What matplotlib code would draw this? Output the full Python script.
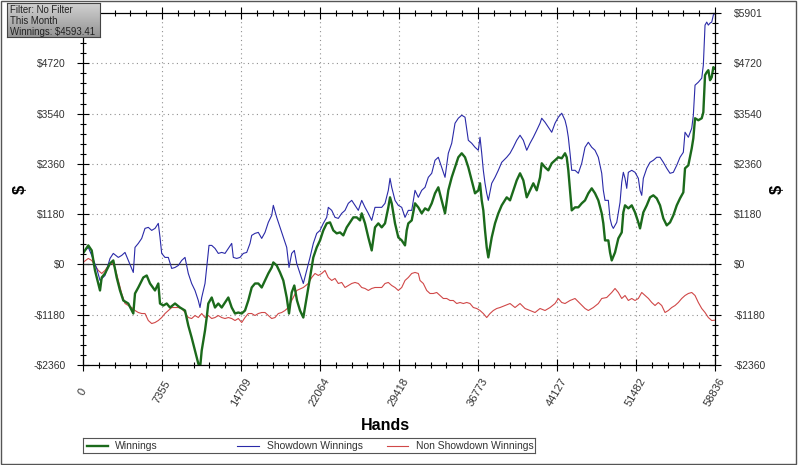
import matplotlib
matplotlib.use("Agg")
import matplotlib.pyplot as plt
import numpy as np
from matplotlib.ticker import FixedLocator
from matplotlib.patches import Rectangle

plt.rcParams['font.family'] = ['Liberation Sans', 'DejaVu Sans']

# ---- data (hands, $) ----
x_ticks = [0, 7355, 14709, 22064, 29418, 36773, 44127, 51482, 58836]
y_ticks = [-2360, -1180, 0, 1180, 2360, 3540, 4720]
y_top = 5901

win_hands = [0, 493, 810, 1117, 1583, 1741, 2048, 2514, 2821, 3137, 3445, 3752, 4217, 4683, 4841,
             5148, 5614, 5930, 6238, 6703, 7010, 7169, 7476, 7792, 8100, 8565, 9031, 9496, 9803,
             10115, 10427, 10734, 10893, 11051, 11358, 11516, 11665, 11982, 12289, 12596, 12913,
             13220, 13528, 13844, 14151, 14459, 14775, 15082, 15389, 15706, 16013, 16320, 16637,
             16944, 17251, 17568, 17717, 18033, 18341, 18648, 18965, 19179, 19430, 19672, 19923,
             20203, 20510, 20826, 21134, 21441, 21758, 22065, 22372, 22688, 22996, 23303, 23619,
             23927, 24234, 24550, 24858, 25165, 25481, 25789, 25947, 26254, 26561, 26878, 27185,
             27493, 27809, 28116, 28423, 28582, 28740, 29047, 29354, 29671, 29978, 30136, 30285,
             30602, 30909, 31216, 31533, 31840, 32147, 32464, 32771, 33078, 33395, 33702, 34009,
             34326, 34633, 34940, 35257, 35564, 35871, 36188, 36495, 36802, 36961, 37119, 37268,
             37426, 37584, 37733, 38050, 38357, 38664, 38981, 39446, 39754, 40061, 40378, 40685,
             40992, 41309, 41616, 41923, 42240, 42547, 42705, 43012, 43319, 43636, 43943, 44250,
             44567, 44874, 45032, 45181, 45340, 45498, 45805, 46112, 46429, 46736, 47043, 47360,
             47667, 47974, 48291, 48440, 48598, 48905, 49064, 49222, 49529, 49837, 50153, 50302,
             50460, 50768, 51084, 51391, 51699, 51857, 52164, 52481, 52788, 53095, 53412, 53719,
             54026, 54343, 54650, 54957, 55274, 55581, 55888, 56046, 56354, 56670, 56819, 56977,
             57284, 57601, 57750, 57908, 58066, 58215, 58374, 58532, 58681, 58836]
win = [259, 447, 329, -141, -611, -306, -212, 24, 94, -306, -611, -846, -917, -1152, -682,
       -541, -306, -259, -447, -611, -447, -917, -964, -917, -1011, -917, -1011, -1081, -1434,
       -1716, -2021, -2327, -2444, -2021, -1551, -1246, -917, -776, -1011, -917, -1011,
       -893, -776, -1011, -1152, -1128, -1152, -1081, -846, -541, -447, -447, -541,
       -376, -212, -71, 47, -24, -188, -376, -776, -1152, -658, -494, -846,
       -1081, -1246, -776, -306, 165, 400, 564, 799, 964, 987, 799, 729,
       752, 682, 870, 987, 1105, 1105, 1034, 1199, 964, 635, 329, 870,
       964, 870, 964, 1340, 1575, 1434, 964, 635, 564, 447, 799, 964,
       1034, 1434, 1340, 1199, 1316, 1269, 1434, 1669, 1810, 1504, 1199, 1739,
       2045, 2280, 2515, 2609, 2515, 2280, 1974, 1669, 1739, 1904, 1504, 1269,
       799, 400, 165, 635, 964, 1199, 1387, 1575, 1504, 1739, 1974, 2139,
       1974, 1575, 1739, 1904, 1739, 2045, 2374, 2280, 2209, 2374, 2444, 2515,
       2491, 2609, 2515, 2209, 1739, 1269, 1340, 1340, 1434, 1504, 1669, 1786,
       1669, 1504, 1199, 964, 564, 564, 282, 94, 282, 611, 752, 1222,
       1387, 1316, 1387, 1222, 987, 846, 1222, 1387, 1575, 1622, 1551, 1387,
       1081, 917, 987, 1152, 1387, 1551, 1692, 2256, 2327, 2726, 2961, 3431,
       3384, 3431, 3572, 4442, 4512, 4559, 4324, 4395, 4630, 4593]

sd_hands = [0, 493, 810, 1275, 1583, 2048, 2514, 2821, 3286, 3603, 3910, 4217, 4534, 4683, 4841,
            5148, 5465, 5772, 6079, 6396, 6703, 7010, 7169, 7327, 7634, 7941, 8258, 8565, 8872,
            9189, 9496, 9803, 10115, 10427, 10734, 10893, 11051, 11358, 11516, 11731, 11982,
            12289, 12596, 12913, 13220, 13528, 13844, 13993, 14310, 14617, 14924, 15241, 15548,
            15706, 16013, 16320, 16637, 16944, 17251, 17568, 17717, 18033, 18341, 18648, 18965,
            19179, 19430, 19672, 19895, 20203, 20510, 20826, 21134, 21441, 21758, 22065, 22372,
            22688, 22837, 23154, 23461, 23768, 24085, 24392, 24699, 25016, 25323, 25630, 25947,
            26254, 26561, 26878, 27185, 27493, 27809, 28116, 28423, 28582, 28740, 29047, 29354,
            29671, 29978, 30285, 30602, 30909, 31216, 31533, 31840, 32147, 32464, 32771, 33078,
            33395, 33702, 34009, 34326, 34633, 34940, 35257, 35564, 35871, 36188, 36495, 36802,
            36961, 37119, 37268, 37426, 37584, 37733, 38050, 38357, 38664, 38981, 39446, 39754,
            40061, 40378, 40685, 40992, 41309, 41616, 41923, 42240, 42547, 42705, 43012, 43319,
            43636, 43943, 44250, 44567, 44874, 45032, 45181, 45340, 45498, 45805, 46112, 46429,
            46736, 47043, 47360, 47667, 47974, 48291, 48440, 48598, 48905, 49064, 49222, 49371,
            49688, 49995, 50153, 50302, 50460, 50619, 50768, 51084, 51391, 51699, 51857, 52015,
            52164, 52481, 52788, 53095, 53412, 53719, 54026, 54343, 54650, 54957, 55274, 55581,
            55888, 56046, 56354, 56670, 56819, 56977, 57284, 57601, 57750, 57908, 58066, 58215,
            58374, 58532, 58681, 58836]
sd = [282, 400, 212, -94, -376, -259, 141, 259, 165, 212, 282, 94, -94, -188, 400,
      494, 611, 846, 870, 799, 846, 964, 635, 259, 165, 165, -94, -71, -24,
      94, 165, -212, -447, -611, -846, -1011, -776, -447, -71, 447, 447,
      376, 259, 282, 259, 376, 494, 165, 141, 165, 259, 282, 494,
      682, 729, 752, 611, 752, 987, 1152, 1387, 1105, 870, 635, 400,
      -71, 259, 329, 24, -212, -447, -141, 165, 494, 729, 799, 964,
      1105, 1340, 1269, 1105, 1081, 1199, 1269, 1434, 1504, 1387, 1269, 1504,
      1340, 1199, 1034, 1340, 1340, 1340, 1434, 1739, 2021, 1810, 1504, 1387,
      1340, 1105, 1269, 1269, 1739, 1575, 1739, 1810, 2045, 2139, 2444, 2515,
      2280, 2045, 2609, 2844, 3314, 3431, 3502, 3455, 2914, 2844, 2750, 2679,
      2985, 2609, 2209, 1904, 1669, 1504, 1904, 2045, 2209, 2397, 2515, 2609,
      2750, 2914, 3032, 2914, 2679, 2844, 2985, 3149, 3314, 3431, 3337, 3220,
      3102, 3314, 3455, 3549, 3384, 3220, 2985, 2609, 2209, 2209, 2139, 2374,
      2750, 2867, 2750, 2679, 2515, 2139, 1739, 1504, 1504, 1081, 917, 846,
      987, 1457, 1927, 2162, 2021, 1786, 2162, 2209, 2162, 2021, 1739, 1622,
      2021, 2256, 2397, 2444, 2515, 2515, 2397, 2256, 2139, 2162, 2327, 2515,
      2632, 3102, 2985, 3196, 3502, 4207, 4277, 4371, 4677, 5617, 5687, 5617,
      5664, 5687, 5852, 5901]

nsd_hands = [0, 493, 810, 1117, 1424, 1741, 2048, 2355, 2672, 2979, 3286, 3603, 3910, 4217, 4534,
             4841, 5148, 5465, 5772, 6079, 6396, 6703, 7010, 7327, 7634, 7941, 8258, 8565, 8872,
             9189, 9496, 9803, 10115, 10427, 10734, 11051, 11358, 11665, 11982, 12289, 12596,
             12913, 13220, 13528, 13844, 14151, 14459, 14775, 15082, 15389, 15706, 16013, 16320,
             16637, 16944, 17251, 17568, 17875, 18182, 18499, 18806, 19114, 19430, 19672, 19895,
             20510, 20976, 21292, 21600, 21907, 22223, 22530, 22837, 23154, 23461, 23768, 24085,
             24392, 24699, 25016, 25323, 25630, 25947, 26254, 26561, 26878, 27185, 27493, 27809,
             28116, 28423, 28740, 29047, 29354, 29671, 29978, 30285, 30602, 30909, 31216, 31374,
             31681, 31998, 32306, 32613, 32929, 33237, 33544, 33861, 34168, 34475, 34792, 35099,
             35406, 35723, 36030, 36337, 36654, 36961, 37268, 37584, 37892, 38199, 38516, 38823,
             39289, 39754, 40219, 40685, 41150, 41616, 42081, 42547, 43012, 43478, 43943, 44250,
             44567, 44874, 45340, 45805, 46271, 46736, 47043, 47509, 47974, 48291, 48756, 49222,
             49529, 49837, 50153, 50460, 50768, 51084, 51391, 51699, 52015, 52322, 52639, 52946,
             53253, 53560, 53877, 54184, 54492, 54808, 55115, 55423, 55739, 56046, 56354, 56670,
             56977, 57284, 57601, 57908, 58215, 58532, 58836]
nsd = [47, 141, 94, -24, -141, -212, -141, -24, 47, -71, -376, -682, -917, -964, -1011,
       -1081, -1128, -1152, -1152, -1316, -1387, -1363, -1316, -1246, -1152, -1081, -1011, -1011, -1011,
       -1034, -1128, -1246, -1269, -1199, -1246, -1152, -1246, -1199, -1269, -1246, -1199,
       -1246, -1269, -1246, -1269, -1316, -1269, -1363, -1246, -1152, -1152, -1199, -1152,
       -1128, -1128, -1199, -1269, -1246, -1152, -1128, -1081, -1011, -846, -729, -611,
       -541, -447, -306, -212, -259, -212, -141, -306, -376, -329, -447, -423,
       -541, -494, -447, -423, -447, -541, -564, -611, -564, -541, -541, -541,
       -447, -423, -494, -541, -611, -541, -376, -306, -212, -188, -212, -376,
       -447, -611, -682, -682, -658, -729, -799, -799, -846, -846, -917, -893,
       -917, -893, -917, -1011, -1034, -1081, -1152, -1246, -1152, -1081, -1034, -1011,
       -964, -917, -1011, -917, -1034, -1081, -1128, -1034, -1081, -1011, -917, -799,
       -893, -917, -846, -799, -917, -1034, -1081, -1011, -917, -799, -776, -658,
       -564, -658, -799, -729, -846, -799, -846, -799, -658, -729, -799, -893,
       -964, -893, -964, -1128, -1081, -1011, -964, -893, -799, -729, -682, -658,
       -729, -893, -1034, -1128, -1246, -1316, -1308]

fig = plt.figure(figsize=(7.98, 4.65), dpi=100)
ax = fig.add_axes([83/798, 100/465, 632/798, 352/465])

ax.plot(nsd_hands, nsd, color='#d04848', lw=0.8, zorder=3)
ax.plot(sd_hands, sd, color='#2a2aa8', lw=0.8, zorder=4)
ax.plot(win_hands, win, color='#1b6a1b', lw=1.7, zorder=5)
ax.axhline(0, color='#333333', lw=0.9, zorder=2)

ax.set_xlim(0, 58836)
ax.set_ylim(-2360, y_top)

def money(v):
    return '-$%d' % abs(v) if v < 0 else '$%d' % v

ax.set_xticks(x_ticks)
ax.set_xticklabels([str(v) for v in x_ticks], rotation=60, ha='center', va='center')
ax.xaxis.set_minor_locator(FixedLocator(np.linspace(0, 58836, 41)))
ax.set_yticks(y_ticks)
ax.set_yticklabels([money(v) for v in y_ticks])
ax.yaxis.set_minor_locator(FixedLocator(np.arange(-2360, y_top, 236)))
ax.tick_params(which='major', direction='inout', length=9, width=0.8, top=True,
               labelsize=7.5, labelcolor='#333333')
ax.tick_params(which='minor', direction='inout', length=5, width=0.8, top=True)
ax.tick_params(axis='x', pad=15, labelsize=8)
ax.tick_params(axis='y', pad=8)
ax.grid(True, which='major', ls=(0, (1, 3)), color='#909090', lw=0.8)

ax2 = ax.twinx()
ax2.set_ylim(-2360, y_top)
ax2.set_yticks(y_ticks + [y_top])
ax2.set_yticklabels([money(v) for v in y_ticks + [y_top]])
ax2.yaxis.set_minor_locator(FixedLocator(np.arange(-2360, y_top, 236)))
ax2.tick_params(which='major', direction='inout', length=9, width=0.8, pad=9,
                labelsize=7.5, labelcolor='#333333')
ax2.tick_params(which='minor', direction='inout', length=5, width=0.8)

fig.text(20/798, 1 - 189/465, '$', rotation=90, fontsize=12, fontweight='bold',
         ha='center', va='center')
fig.text(777/798, 1 - 189/465, '$', rotation=90, fontsize=12, fontweight='bold',
         ha='center', va='center')
fig.text(385/798, 1 - 425/465, 'Hands', fontsize=11.5, fontweight='bold',
         ha='center', va='center')

# legend box
lax = fig.add_axes([83/798, 1 - 453/465, 452/798, 15/465])
lax.set_xlim(0, 452)
lax.set_ylim(0, 1)
lax.set_xticks([])
lax.set_yticks([])
for s in lax.spines.values():
    s.set_color('#555555')
    s.set_linewidth(0.8)
lax.plot([4, 25], [0.5, 0.5], color='#1b6a1b', lw=1.7)
lax.text(32, 0.5, 'Winnings', fontsize=7.5, va='center', color='#333333')
lax.plot([154, 176], [0.5, 0.5], color='#2a2aa8', lw=0.8)
lax.text(184, 0.5, 'Showdown Winnings', fontsize=7.5, va='center', color='#333333')
lax.plot([304, 325], [0.5, 0.5], color='#d04848', lw=0.8)
lax.text(333, 0.5, 'Non Showdown Winnings', fontsize=7.5, va='center', color='#333333')

# info box
iax = fig.add_axes([7/798, 1 - 37/465, 93/798, 34/465])
grad = np.linspace(0.82, 0.58, 50).reshape(-1, 1) * np.ones((1, 80))
iax.imshow(grad, cmap='gray', vmin=0, vmax=1, aspect='auto', extent=(0, 1, 0, 1))
iax.set_xticks([])
iax.set_yticks([])
for s in iax.spines.values():
    s.set_color('#444444')
    s.set_linewidth(0.8)
for i, line in enumerate(['Filter: No Filter', 'This Month', 'Winnings: $4593.41']):
    iax.text(0.03, 0.8 - i * 0.32, line, fontsize=6.9, va='center', color='#222222',
             transform=iax.transAxes)

fig.add_artist(Rectangle((0.001, 0.002), 0.997, 0.996, transform=fig.transFigure,
                         fill=False, ec='#555555', lw=1))

fig.savefig('out.png', dpi=100)
